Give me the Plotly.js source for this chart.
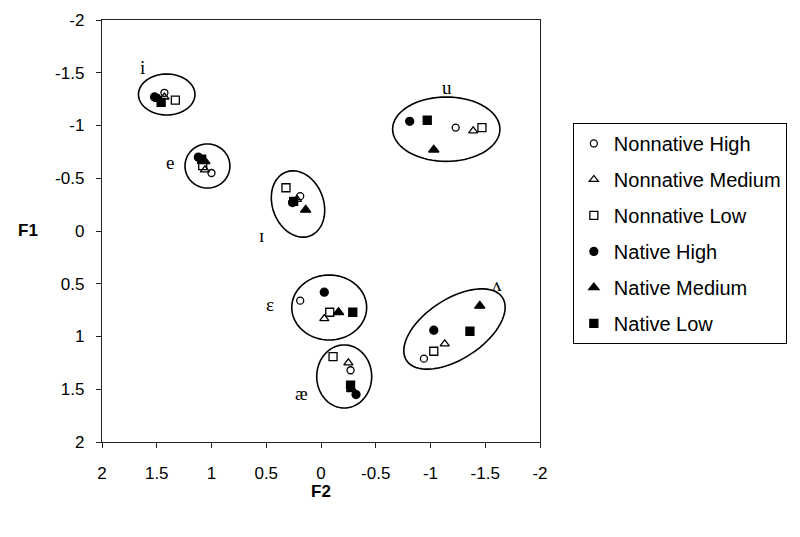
<!DOCTYPE html>
<html><head><meta charset="utf-8">
<script src="https://cdn.plot.ly/plotly-3.0.1.min.js"></script>
<style>html,body{margin:0;padding:0;background:#fff}#chart{width:800px;height:537px}</style>
</head><body><div id="chart"></div>
<script>
// Vowel order: i, e, ɪ, ε, æ, ʌ, u
const vowels = ["i", "e", "ɪ", "ε", "æ", "ʌ", "u"];
const seriesNames = ["Nonnative High", "Nonnative Medium", "Nonnative Low", "Native High", "Native Medium", "Native Low"];
// F2 values (x) per series
const f2NonnativeHigh   = [1.43, 1.00, 0.19, 0.19, -0.27, -0.94, -1.23];
const f2NonnativeMedium = [1.43, 1.06, 0.22, -0.03, -0.25, -1.13, -1.39];
const f2NonnativeLow    = [1.33, 1.08, 0.32, -0.08, -0.11, -1.03, -1.47];
const f2NativeHigh      = [1.52, 1.12, 0.26, -0.03, -0.32, -1.03, -0.81];
const f2NativeMedium    = [1.48, 1.06, 0.14, -0.16, -0.28, -1.45, -1.03];
const f2NativeLow       = [1.46, 1.09, 0.25, -0.29, -0.27, -1.36, -0.97];
// F1 values (y) per series
const f1NonnativeHigh   = [-1.31, -0.55, -0.33, 0.66, 1.32, 1.21, -0.98];
const f1NonnativeMedium = [-1.27, -0.58, -0.30, 0.83, 1.25, 1.07, -0.95];
const f1NonnativeLow    = [-1.24, -0.62, -0.41, 0.77, 1.19, 1.14, -0.98];
const f1NativeHigh      = [-1.27, -0.70, -0.27, 0.58, 1.55, 0.94, -1.04];
const f1NativeMedium    = [-1.25, -0.66, -0.20, 0.77, 1.50, 0.71, -0.77];
const f1NativeLow       = [-1.22, -0.68, -0.28, 0.77, 1.46, 0.95, -1.05];
// Vowel label positions
const labelText = ["i", "e", "ɪ", "ε", "æ", "ʌ", "u"];
const labelF2 = [1.63, 1.38, 0.54, 0.47, 0.18, -1.61, -1.15];
const labelF1 = [-1.55, -0.65, 0.04, 0.70, 1.54, 0.51, -1.36];
// Ellipse parameters per vowel (center F2, center F1, semi-axes, tilt degrees)
const ellCx = [1.409, 1.037, 0.210, -0.075, -0.212, -1.219, -1.144];
const ellCy = [-1.294, -0.616, -0.256, 0.725, 1.379, 0.929, -0.965];
const ellA  = [0.258, 0.205, 0.234, 0.342, 0.251, 0.530, 0.490];
const ellB  = [0.194, 0.209, 0.322, 0.308, 0.299, 0.280, 0.305];
const ellTilt = [0, 0, 18, 0, 0, 35, 0];
// Axis ticks
const tickVals = [2, 1.5, 1, 0.5, 0, -0.5, -1, -1.5, -2];
const tickText = ["2", "1.5", "1", "0.5", "0", "-0.5", "-1", "-1.5", "-2"];

const xs = [f2NonnativeHigh, f2NonnativeMedium, f2NonnativeLow, f2NativeHigh, f2NativeMedium, f2NativeLow];
const ys = [f1NonnativeHigh, f1NonnativeMedium, f1NonnativeLow, f1NativeHigh, f1NativeMedium, f1NativeLow];
const symbols = ["circle-open", "triangle-up-open", "square-open", "circle", "triangle-up", "square"];
const sizes = [7, 8, 8, 8, 9, 8];

const traces = seriesNames.map((n, k) => ({
  type: "scatter", mode: "markers", name: n, x: xs[k], y: ys[k], text: vowels,
  legendgroup: "g" + k,
  marker: {symbol: symbols[k], size: sizes[k], color: "#000", line: {color: "#000", width: 1.3}}
}));

function ellipsePath(i) {
  const th = ellTilt[i] * Math.PI / 180;
  let d = "";
  for (let s = 0; s <= 72; s++) {
    const t = s / 72 * 2 * Math.PI;
    const u = ellA[i] * Math.cos(t), v = ellB[i] * Math.sin(t);
    const sx = u * Math.cos(th) - v * Math.sin(th);
    const sy = u * Math.sin(th) + v * Math.cos(th);
    const X = ellCx[i] - sx, Y = ellCy[i] - sy;
    d += (s === 0 ? "M" : "L") + X.toFixed(4) + "," + Y.toFixed(4);
  }
  return d + "Z";
}
const shapes = ellCx.map((_, i) => ({type: "path", xref: "x", yref: "y", path: ellipsePath(i), line: {color: "#000", width: 1.6}}));

const annotations = labelText.map((t, i) => ({
  x: labelF2[i], y: labelF1[i], xref: "x", yref: "y", text: t, showarrow: false,
  font: {family: "Liberation Serif, serif", size: 19, color: "#000"}
}));
annotations.push({x: 0.5, y: -0.118, xref: "paper", yref: "paper", xanchor: "center", yanchor: "middle", text: "<b>F2</b>", showarrow: false, font: {family: "Liberation Sans, Arial", size: 17, color: "#000"}});
annotations.push({x: -0.169, y: 0.502, xref: "paper", yref: "paper", xanchor: "center", yanchor: "middle", text: "<b>F1</b>", showarrow: false, font: {family: "Liberation Sans, Arial", size: 17, color: "#000"}});

const layout = {
  width: 800, height: 537,
  margin: {l: 102, r: 260, t: 20, b: 95},
  paper_bgcolor: "#fff", plot_bgcolor: "#fff",
  font: {family: "Liberation Sans, Arial", size: 17, color: "#000"},
  xaxis: {range: [2, -2], tickvals: tickVals, ticktext: tickText, showgrid: false, zeroline: false,
          showline: true, mirror: true, linecolor: "#222", linewidth: 1.2, ticks: "outside", ticklen: 5, tickcolor: "#222",
          ticklabelstandoff: 10},
  yaxis: {range: [2, -2], tickvals: tickVals, ticktext: tickText, showgrid: false, zeroline: false,
          showline: true, mirror: true, linecolor: "#222", linewidth: 1.2, ticks: "outside", ticklen: 5, tickcolor: "#222",
          ticklabelstandoff: 8},
  showlegend: true,
  legend: {x: 1.075, y: 0.756, xanchor: "left", yanchor: "top", bordercolor: "#000", borderwidth: 1,
           font: {size: 20, family: "Liberation Sans, Arial"}, traceorder: "grouped", tracegroupgap: 7,
           itemwidth: 30},
  shapes: shapes, annotations: annotations
};
Plotly.newPlot("chart", traces, layout, {displayModeBar: false, staticPlot: true});
</script></body></html>
